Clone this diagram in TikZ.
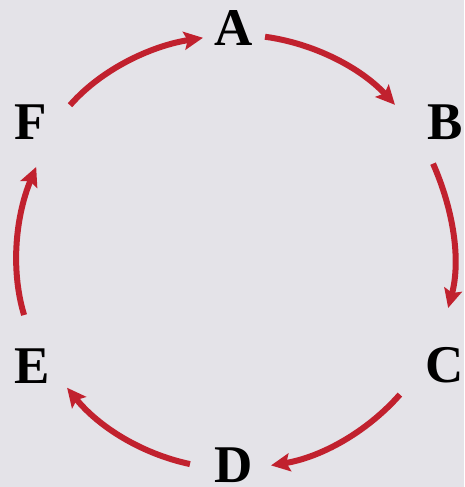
\documentclass[tikz,border=0pt]{standalone}
\usepackage{fontspec}
\setmainfont{Liberation Serif}
\usetikzlibrary{arrows.meta}
\definecolor{cyclered}{RGB}{193, 33, 46}
\definecolor{panelgray}{RGB}{228, 227, 232}

\begin{document}
\begin{tikzpicture}[
    x=1pt, y=1pt,
    letter/.style={circle, inner sep=0pt, outer sep=0pt, minimum size=56pt, font=\fontsize{53}{53}\selectfont\bfseries},
    flow/.style={-{Stealth[length=19pt, width=18pt, inset=3.5pt]}, line width=6pt, cyclered}
]
    % Background
    \fill[panelgray] (0, 0) rectangle (464, 487);
    \useasboundingbox (0, 0) rectangle (464, 487);

    % Letters around the ring
    \node[letter] (A) at (234, 459) {A};
    \node[letter] (B) at (445.5, 364.5) {B};
    \node[letter] (C) at (445, 121.5) {C};
    \node[letter] (D) at (233.5, 22) {D};
    \node[letter] (E) at (32, 121) {E};
    \node[letter] (F) at (31, 364.5) {F};

    % Clockwise arrows
    \draw[flow, shorten <=4.3pt, shorten >=35.1pt] (A.-17.5) to[out=-7.7, in=132.6, out distance=54pt, in distance=85pt] (B.197.3);
    \draw[flow, shorten <=33pt, shorten >=31pt] (B.203.9) to[out=-66.2, in=75, out distance=83pt, in distance=81pt] (C.100.3);
    \draw[flow, shorten <=27.8pt, shorten >=9.7pt] (C.197.9) to[out=-131.3, in=9.2, out distance=78pt, in distance=60pt] (D.-4.3);
    \draw[flow, shorten <=16pt, shorten >=14.5pt] (D.185.9) to[out=167.9, in=-51, out distance=66pt, in distance=64.5pt] (E.-22.4);
    \draw[flow, shorten <=24pt, shorten >=21.6pt] (E.92) to[out=106.8, in=247.2, out distance=74pt, in distance=72pt] (F.-61.4);
    \draw[flow, shorten <=17.2pt, shorten >=4.6pt] (F.9.4) to[out=48.7, in=188.8, out distance=67pt, in distance=55pt] (A.199.4);
\end{tikzpicture}
\end{document}
